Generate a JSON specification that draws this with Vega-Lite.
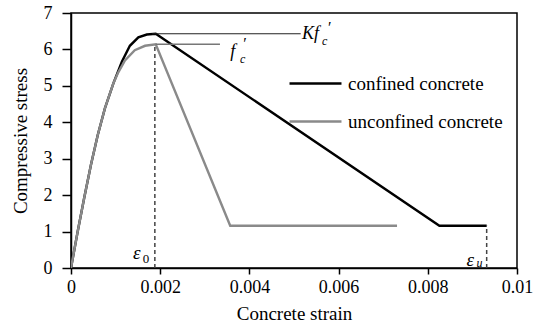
{
  "$schema": "https://vega.github.io/schema/vega-lite/v6.json",
  "width": 446,
  "height": 255,
  "autosize": {"type": "none"},
  "padding": {"left": 71, "top": 13, "right": 26, "bottom": 58},
  "background": "white",
  "view": {"stroke": "black", "strokeWidth": 1.5},
  "config": {
    "font": "Liberation Serif, serif",
    "axis": {"labelFont": "Liberation Serif, serif", "titleFont": "Liberation Serif, serif", "labelFontSize": 18, "titleFontSize": 19, "labelColor": "black", "titleColor": "black", "titleFontWeight": "normal"},
    "legend": {"labelFont": "Liberation Serif, serif", "labelFontSize": 19, "labelColor": "black"},
    "text": {"font": "Liberation Serif, serif"}
  },
  "datasets": {
    "curves": [
      {"series": "confined concrete", "i": 0, "strain": 0, "stress": 0},
      {"series": "confined concrete", "i": 1, "strain": 0.00015, "stress": 1},
      {"series": "confined concrete", "i": 2, "strain": 0.0003, "stress": 1.95},
      {"series": "confined concrete", "i": 3, "strain": 0.00045, "stress": 2.85},
      {"series": "confined concrete", "i": 4, "strain": 0.0006, "stress": 3.65},
      {"series": "confined concrete", "i": 5, "strain": 0.00076, "stress": 4.38},
      {"series": "confined concrete", "i": 6, "strain": 0.00095, "stress": 5.07},
      {"series": "confined concrete", "i": 7, "strain": 0.00114, "stress": 5.66},
      {"series": "confined concrete", "i": 8, "strain": 0.00132, "stress": 6.1},
      {"series": "confined concrete", "i": 9, "strain": 0.00151, "stress": 6.33},
      {"series": "confined concrete", "i": 10, "strain": 0.0017, "stress": 6.41},
      {"series": "confined concrete", "i": 11, "strain": 0.0019, "stress": 6.43},
      {"series": "confined concrete", "i": 12, "strain": 0.00826, "stress": 1.16},
      {"series": "confined concrete", "i": 13, "strain": 0.00932, "stress": 1.16},
      {"series": "unconfined concrete", "i": 0, "strain": 0, "stress": 0},
      {"series": "unconfined concrete", "i": 1, "strain": 0.00015, "stress": 1},
      {"series": "unconfined concrete", "i": 2, "strain": 0.0003, "stress": 1.95},
      {"series": "unconfined concrete", "i": 3, "strain": 0.00045, "stress": 2.85},
      {"series": "unconfined concrete", "i": 4, "strain": 0.0006, "stress": 3.65},
      {"series": "unconfined concrete", "i": 5, "strain": 0.00076, "stress": 4.38},
      {"series": "unconfined concrete", "i": 6, "strain": 0.00095, "stress": 5.07},
      {"series": "unconfined concrete", "i": 7, "strain": 0.00106, "stress": 5.37},
      {"series": "unconfined concrete", "i": 8, "strain": 0.00121, "stress": 5.7},
      {"series": "unconfined concrete", "i": 9, "strain": 0.00143, "stress": 5.98},
      {"series": "unconfined concrete", "i": 10, "strain": 0.00166, "stress": 6.1},
      {"series": "unconfined concrete", "i": 11, "strain": 0.0019, "stress": 6.14},
      {"series": "unconfined concrete", "i": 12, "strain": 0.00357, "stress": 1.16},
      {"series": "unconfined concrete", "i": 13, "strain": 0.00731, "stress": 1.16}
    ],
    "one": [{}]
  },
  "layer": [
    {
      "data": {"name": "curves"},
      "mark": {"type": "line", "strokeWidth": 2.4, "clip": true},
      "encoding": {
        "x": {"field": "strain", "type": "quantitative", "scale": {"domain": [0, 0.01], "nice": false, "zero": false},
              "axis": {"values": [0, 0.002, 0.004, 0.006, 0.008, 0.01], "format": "~g", "tickSize": 6, "tickWidth": 1.5, "tickColor": "black", "domainColor": "black", "domainWidth": 1.5, "grid": false, "labelFont": "Liberation Serif, serif", "labelFontSize": 18, "labelColor": "black", "labelPadding": 4, "labelFlush": false, "title": "Concrete strain", "titleFont": "Liberation Serif, serif", "titleFontSize": 19, "titleFontWeight": "normal", "titleColor": "black", "titlePadding": 8}},
        "y": {"field": "stress", "type": "quantitative", "scale": {"domain": [0, 7], "nice": false},
              "axis": {"values": [0, 1, 2, 3, 4, 5, 6, 7], "tickSize": 9, "tickWidth": 1.5, "tickColor": "black", "domainColor": "black", "domainWidth": 1.5, "grid": false, "labelFont": "Liberation Serif, serif", "labelFontSize": 18, "labelColor": "black", "labelPadding": 10, "labelFlush": false, "title": "Compressive stress", "titleFont": "Liberation Serif, serif", "titleFontSize": 19, "titleFontWeight": "normal", "titleColor": "black", "titlePadding": 13}},
        "color": {"field": "series", "type": "nominal",
                  "scale": {"domain": ["confined concrete", "unconfined concrete"], "range": ["#000000", "#8a8a8a"]},
                  "legend": {"orient": "none", "legendX": 217, "legendY": 43, "title": null, "symbolType": "stroke", "symbolSize": 2700, "symbolStrokeWidth": 2.5, "labelOffset": 5, "rowPadding": -29, "labelFontSize": 19, "labelFont": "Liberation Serif, serif", "labelColor": "black"}},
        "order": {"field": "i", "type": "quantitative"}
      }
    },
    {
      "data": {"name": "one"},
      "mark": {"type": "rule", "color": "#222222", "strokeWidth": 1.2},
      "encoding": {
        "x": {"datum": 0.00182, "type": "quantitative", "axis": {"values": [0, 0.002, 0.004, 0.006, 0.008, 0.01], "format": "~g", "tickSize": 6, "tickWidth": 1.5, "tickColor": "black", "domainColor": "black", "domainWidth": 1.5, "grid": false, "labelFont": "Liberation Serif, serif", "labelFontSize": 18, "labelColor": "black", "labelPadding": 4, "labelFlush": false, "title": "Concrete strain", "titleFont": "Liberation Serif, serif", "titleFontSize": 19, "titleFontWeight": "normal", "titleColor": "black", "titlePadding": 8}},
        "x2": {"datum": 0.00515},
        "y": {"datum": 6.43, "type": "quantitative", "axis": {"values": [0, 1, 2, 3, 4, 5, 6, 7], "tickSize": 9, "tickWidth": 1.5, "tickColor": "black", "domainColor": "black", "domainWidth": 1.5, "grid": false, "labelFont": "Liberation Serif, serif", "labelFontSize": 18, "labelColor": "black", "labelPadding": 10, "labelFlush": false, "title": "Compressive stress", "titleFont": "Liberation Serif, serif", "titleFontSize": 19, "titleFontWeight": "normal", "titleColor": "black", "titlePadding": 13}}
      }
    },
    {
      "data": {"name": "one"},
      "mark": {"type": "rule", "color": "#777777", "strokeWidth": 1.5},
      "encoding": {
        "x": {"datum": 0.0019, "type": "quantitative", "axis": {"values": [0, 0.002, 0.004, 0.006, 0.008, 0.01], "format": "~g", "tickSize": 6, "tickWidth": 1.5, "tickColor": "black", "domainColor": "black", "domainWidth": 1.5, "grid": false, "labelFont": "Liberation Serif, serif", "labelFontSize": 18, "labelColor": "black", "labelPadding": 4, "labelFlush": false, "title": "Concrete strain", "titleFont": "Liberation Serif, serif", "titleFontSize": 19, "titleFontWeight": "normal", "titleColor": "black", "titlePadding": 8}},
        "x2": {"datum": 0.00334},
        "y": {"datum": 6.14, "type": "quantitative", "axis": {"values": [0, 1, 2, 3, 4, 5, 6, 7], "tickSize": 9, "tickWidth": 1.5, "tickColor": "black", "domainColor": "black", "domainWidth": 1.5, "grid": false, "labelFont": "Liberation Serif, serif", "labelFontSize": 18, "labelColor": "black", "labelPadding": 10, "labelFlush": false, "title": "Compressive stress", "titleFont": "Liberation Serif, serif", "titleFontSize": 19, "titleFontWeight": "normal", "titleColor": "black", "titlePadding": 13}}
      }
    },
    {
      "data": {"name": "one"},
      "mark": {"type": "rule", "color": "#444444", "strokeWidth": 1.5, "strokeDash": [4, 3]},
      "encoding": {
        "x": {"datum": 0.00188, "type": "quantitative", "axis": {"values": [0, 0.002, 0.004, 0.006, 0.008, 0.01], "format": "~g", "tickSize": 6, "tickWidth": 1.5, "tickColor": "black", "domainColor": "black", "domainWidth": 1.5, "grid": false, "labelFont": "Liberation Serif, serif", "labelFontSize": 18, "labelColor": "black", "labelPadding": 4, "labelFlush": false, "title": "Concrete strain", "titleFont": "Liberation Serif, serif", "titleFontSize": 19, "titleFontWeight": "normal", "titleColor": "black", "titlePadding": 8}},
        "y": {"datum": 0, "type": "quantitative", "axis": {"values": [0, 1, 2, 3, 4, 5, 6, 7], "tickSize": 9, "tickWidth": 1.5, "tickColor": "black", "domainColor": "black", "domainWidth": 1.5, "grid": false, "labelFont": "Liberation Serif, serif", "labelFontSize": 18, "labelColor": "black", "labelPadding": 10, "labelFlush": false, "title": "Compressive stress", "titleFont": "Liberation Serif, serif", "titleFontSize": 19, "titleFontWeight": "normal", "titleColor": "black", "titlePadding": 13}},
        "y2": {"datum": 6.14}
      }
    },
    {
      "data": {"name": "one"},
      "mark": {"type": "rule", "color": "#444444", "strokeWidth": 1.5, "strokeDash": [4, 3]},
      "encoding": {
        "x": {"datum": 0.00932, "type": "quantitative", "axis": {"values": [0, 0.002, 0.004, 0.006, 0.008, 0.01], "format": "~g", "tickSize": 6, "tickWidth": 1.5, "tickColor": "black", "domainColor": "black", "domainWidth": 1.5, "grid": false, "labelFont": "Liberation Serif, serif", "labelFontSize": 18, "labelColor": "black", "labelPadding": 4, "labelFlush": false, "title": "Concrete strain", "titleFont": "Liberation Serif, serif", "titleFontSize": 19, "titleFontWeight": "normal", "titleColor": "black", "titlePadding": 8}},
        "y": {"datum": 0, "type": "quantitative", "axis": {"values": [0, 1, 2, 3, 4, 5, 6, 7], "tickSize": 9, "tickWidth": 1.5, "tickColor": "black", "domainColor": "black", "domainWidth": 1.5, "grid": false, "labelFont": "Liberation Serif, serif", "labelFontSize": 18, "labelColor": "black", "labelPadding": 10, "labelFlush": false, "title": "Compressive stress", "titleFont": "Liberation Serif, serif", "titleFontSize": 19, "titleFontWeight": "normal", "titleColor": "black", "titlePadding": 13}},
        "y2": {"datum": 1.16}
      }
    },
    {
      "data": {"name": "one"},
      "mark": {"type": "text", "text": "Kf", "font": "Liberation Serif, serif", "fontStyle": "italic", "fontSize": 18, "align": "left", "baseline": "alphabetic", "color": "black"},
      "encoding": {
        "x": {"datum": 0.00518, "type": "quantitative", "axis": {"values": [0, 0.002, 0.004, 0.006, 0.008, 0.01], "format": "~g", "tickSize": 6, "tickWidth": 1.5, "tickColor": "black", "domainColor": "black", "domainWidth": 1.5, "grid": false, "labelFont": "Liberation Serif, serif", "labelFontSize": 18, "labelColor": "black", "labelPadding": 4, "labelFlush": false, "title": "Concrete strain", "titleFont": "Liberation Serif, serif", "titleFontSize": 19, "titleFontWeight": "normal", "titleColor": "black", "titlePadding": 8}},
        "y": {"datum": 6.28, "type": "quantitative", "axis": {"values": [0, 1, 2, 3, 4, 5, 6, 7], "tickSize": 9, "tickWidth": 1.5, "tickColor": "black", "domainColor": "black", "domainWidth": 1.5, "grid": false, "labelFont": "Liberation Serif, serif", "labelFontSize": 18, "labelColor": "black", "labelPadding": 10, "labelFlush": false, "title": "Compressive stress", "titleFont": "Liberation Serif, serif", "titleFontSize": 19, "titleFontWeight": "normal", "titleColor": "black", "titlePadding": 13}}
      }
    },
    {
      "data": {"name": "one"},
      "mark": {"type": "text", "text": "c", "font": "Liberation Serif, serif", "fontStyle": "italic", "fontSize": 12, "align": "left", "baseline": "alphabetic", "color": "black"},
      "encoding": {
        "x": {"datum": 0.00563, "type": "quantitative", "axis": {"values": [0, 0.002, 0.004, 0.006, 0.008, 0.01], "format": "~g", "tickSize": 6, "tickWidth": 1.5, "tickColor": "black", "domainColor": "black", "domainWidth": 1.5, "grid": false, "labelFont": "Liberation Serif, serif", "labelFontSize": 18, "labelColor": "black", "labelPadding": 4, "labelFlush": false, "title": "Concrete strain", "titleFont": "Liberation Serif, serif", "titleFontSize": 19, "titleFontWeight": "normal", "titleColor": "black", "titlePadding": 8}},
        "y": {"datum": 6.12, "type": "quantitative", "axis": {"values": [0, 1, 2, 3, 4, 5, 6, 7], "tickSize": 9, "tickWidth": 1.5, "tickColor": "black", "domainColor": "black", "domainWidth": 1.5, "grid": false, "labelFont": "Liberation Serif, serif", "labelFontSize": 18, "labelColor": "black", "labelPadding": 10, "labelFlush": false, "title": "Compressive stress", "titleFont": "Liberation Serif, serif", "titleFontSize": 19, "titleFontWeight": "normal", "titleColor": "black", "titlePadding": 13}}
      }
    },
    {
      "data": {"name": "one"},
      "mark": {"type": "text", "text": "′", "font": "Liberation Serif, serif", "fontSize": 16, "align": "left", "baseline": "alphabetic", "color": "black"},
      "encoding": {
        "x": {"datum": 0.00576, "type": "quantitative", "axis": {"values": [0, 0.002, 0.004, 0.006, 0.008, 0.01], "format": "~g", "tickSize": 6, "tickWidth": 1.5, "tickColor": "black", "domainColor": "black", "domainWidth": 1.5, "grid": false, "labelFont": "Liberation Serif, serif", "labelFontSize": 18, "labelColor": "black", "labelPadding": 4, "labelFlush": false, "title": "Concrete strain", "titleFont": "Liberation Serif, serif", "titleFontSize": 19, "titleFontWeight": "normal", "titleColor": "black", "titlePadding": 8}},
        "y": {"datum": 6.45, "type": "quantitative", "axis": {"values": [0, 1, 2, 3, 4, 5, 6, 7], "tickSize": 9, "tickWidth": 1.5, "tickColor": "black", "domainColor": "black", "domainWidth": 1.5, "grid": false, "labelFont": "Liberation Serif, serif", "labelFontSize": 18, "labelColor": "black", "labelPadding": 10, "labelFlush": false, "title": "Compressive stress", "titleFont": "Liberation Serif, serif", "titleFontSize": 19, "titleFontWeight": "normal", "titleColor": "black", "titlePadding": 13}}
      }
    },
    {
      "data": {"name": "one"},
      "mark": {"type": "text", "text": "f", "font": "Liberation Serif, serif", "fontStyle": "italic", "fontSize": 18, "align": "left", "baseline": "alphabetic", "color": "black"},
      "encoding": {
        "x": {"datum": 0.00357, "type": "quantitative", "axis": {"values": [0, 0.002, 0.004, 0.006, 0.008, 0.01], "format": "~g", "tickSize": 6, "tickWidth": 1.5, "tickColor": "black", "domainColor": "black", "domainWidth": 1.5, "grid": false, "labelFont": "Liberation Serif, serif", "labelFontSize": 18, "labelColor": "black", "labelPadding": 4, "labelFlush": false, "title": "Concrete strain", "titleFont": "Liberation Serif, serif", "titleFontSize": 19, "titleFontWeight": "normal", "titleColor": "black", "titlePadding": 8}},
        "y": {"datum": 5.79, "type": "quantitative", "axis": {"values": [0, 1, 2, 3, 4, 5, 6, 7], "tickSize": 9, "tickWidth": 1.5, "tickColor": "black", "domainColor": "black", "domainWidth": 1.5, "grid": false, "labelFont": "Liberation Serif, serif", "labelFontSize": 18, "labelColor": "black", "labelPadding": 10, "labelFlush": false, "title": "Compressive stress", "titleFont": "Liberation Serif, serif", "titleFontSize": 19, "titleFontWeight": "normal", "titleColor": "black", "titlePadding": 13}}
      }
    },
    {
      "data": {"name": "one"},
      "mark": {"type": "text", "text": "c", "font": "Liberation Serif, serif", "fontStyle": "italic", "fontSize": 12, "align": "left", "baseline": "alphabetic", "color": "black"},
      "encoding": {
        "x": {"datum": 0.00379, "type": "quantitative", "axis": {"values": [0, 0.002, 0.004, 0.006, 0.008, 0.01], "format": "~g", "tickSize": 6, "tickWidth": 1.5, "tickColor": "black", "domainColor": "black", "domainWidth": 1.5, "grid": false, "labelFont": "Liberation Serif, serif", "labelFontSize": 18, "labelColor": "black", "labelPadding": 4, "labelFlush": false, "title": "Concrete strain", "titleFont": "Liberation Serif, serif", "titleFontSize": 19, "titleFontWeight": "normal", "titleColor": "black", "titlePadding": 8}},
        "y": {"datum": 5.63, "type": "quantitative", "axis": {"values": [0, 1, 2, 3, 4, 5, 6, 7], "tickSize": 9, "tickWidth": 1.5, "tickColor": "black", "domainColor": "black", "domainWidth": 1.5, "grid": false, "labelFont": "Liberation Serif, serif", "labelFontSize": 18, "labelColor": "black", "labelPadding": 10, "labelFlush": false, "title": "Compressive stress", "titleFont": "Liberation Serif, serif", "titleFontSize": 19, "titleFontWeight": "normal", "titleColor": "black", "titlePadding": 13}}
      }
    },
    {
      "data": {"name": "one"},
      "mark": {"type": "text", "text": "′", "font": "Liberation Serif, serif", "fontSize": 16, "align": "left", "baseline": "alphabetic", "color": "black"},
      "encoding": {
        "x": {"datum": 0.00386, "type": "quantitative", "axis": {"values": [0, 0.002, 0.004, 0.006, 0.008, 0.01], "format": "~g", "tickSize": 6, "tickWidth": 1.5, "tickColor": "black", "domainColor": "black", "domainWidth": 1.5, "grid": false, "labelFont": "Liberation Serif, serif", "labelFontSize": 18, "labelColor": "black", "labelPadding": 4, "labelFlush": false, "title": "Concrete strain", "titleFont": "Liberation Serif, serif", "titleFontSize": 19, "titleFontWeight": "normal", "titleColor": "black", "titlePadding": 8}},
        "y": {"datum": 6.01, "type": "quantitative", "axis": {"values": [0, 1, 2, 3, 4, 5, 6, 7], "tickSize": 9, "tickWidth": 1.5, "tickColor": "black", "domainColor": "black", "domainWidth": 1.5, "grid": false, "labelFont": "Liberation Serif, serif", "labelFontSize": 18, "labelColor": "black", "labelPadding": 10, "labelFlush": false, "title": "Compressive stress", "titleFont": "Liberation Serif, serif", "titleFontSize": 19, "titleFontWeight": "normal", "titleColor": "black", "titlePadding": 13}}
      }
    },
    {
      "data": {"name": "one"},
      "mark": {"type": "text", "text": "ε", "font": "Liberation Serif, serif", "fontStyle": "italic", "fontSize": 19, "align": "left", "baseline": "alphabetic", "color": "black"},
      "encoding": {
        "x": {"datum": 0.00139, "type": "quantitative", "axis": {"values": [0, 0.002, 0.004, 0.006, 0.008, 0.01], "format": "~g", "tickSize": 6, "tickWidth": 1.5, "tickColor": "black", "domainColor": "black", "domainWidth": 1.5, "grid": false, "labelFont": "Liberation Serif, serif", "labelFontSize": 18, "labelColor": "black", "labelPadding": 4, "labelFlush": false, "title": "Concrete strain", "titleFont": "Liberation Serif, serif", "titleFontSize": 19, "titleFontWeight": "normal", "titleColor": "black", "titlePadding": 8}},
        "y": {"datum": 0.25, "type": "quantitative", "axis": {"values": [0, 1, 2, 3, 4, 5, 6, 7], "tickSize": 9, "tickWidth": 1.5, "tickColor": "black", "domainColor": "black", "domainWidth": 1.5, "grid": false, "labelFont": "Liberation Serif, serif", "labelFontSize": 18, "labelColor": "black", "labelPadding": 10, "labelFlush": false, "title": "Compressive stress", "titleFont": "Liberation Serif, serif", "titleFontSize": 19, "titleFontWeight": "normal", "titleColor": "black", "titlePadding": 13}}
      }
    },
    {
      "data": {"name": "one"},
      "mark": {"type": "text", "text": "0", "font": "Liberation Serif, serif", "fontSize": 13, "align": "left", "baseline": "alphabetic", "color": "black"},
      "encoding": {
        "x": {"datum": 0.00161, "type": "quantitative", "axis": {"values": [0, 0.002, 0.004, 0.006, 0.008, 0.01], "format": "~g", "tickSize": 6, "tickWidth": 1.5, "tickColor": "black", "domainColor": "black", "domainWidth": 1.5, "grid": false, "labelFont": "Liberation Serif, serif", "labelFontSize": 18, "labelColor": "black", "labelPadding": 4, "labelFlush": false, "title": "Concrete strain", "titleFont": "Liberation Serif, serif", "titleFontSize": 19, "titleFontWeight": "normal", "titleColor": "black", "titlePadding": 8}},
        "y": {"datum": 0.14, "type": "quantitative", "axis": {"values": [0, 1, 2, 3, 4, 5, 6, 7], "tickSize": 9, "tickWidth": 1.5, "tickColor": "black", "domainColor": "black", "domainWidth": 1.5, "grid": false, "labelFont": "Liberation Serif, serif", "labelFontSize": 18, "labelColor": "black", "labelPadding": 10, "labelFlush": false, "title": "Compressive stress", "titleFont": "Liberation Serif, serif", "titleFontSize": 19, "titleFontWeight": "normal", "titleColor": "black", "titlePadding": 13}}
      }
    },
    {
      "data": {"name": "one"},
      "mark": {"type": "text", "text": "ε", "font": "Liberation Serif, serif", "fontStyle": "italic", "fontSize": 19, "align": "left", "baseline": "alphabetic", "color": "black"},
      "encoding": {
        "x": {"datum": 0.00887, "type": "quantitative", "axis": {"values": [0, 0.002, 0.004, 0.006, 0.008, 0.01], "format": "~g", "tickSize": 6, "tickWidth": 1.5, "tickColor": "black", "domainColor": "black", "domainWidth": 1.5, "grid": false, "labelFont": "Liberation Serif, serif", "labelFontSize": 18, "labelColor": "black", "labelPadding": 4, "labelFlush": false, "title": "Concrete strain", "titleFont": "Liberation Serif, serif", "titleFontSize": 19, "titleFontWeight": "normal", "titleColor": "black", "titlePadding": 8}},
        "y": {"datum": 0.06, "type": "quantitative", "axis": {"values": [0, 1, 2, 3, 4, 5, 6, 7], "tickSize": 9, "tickWidth": 1.5, "tickColor": "black", "domainColor": "black", "domainWidth": 1.5, "grid": false, "labelFont": "Liberation Serif, serif", "labelFontSize": 18, "labelColor": "black", "labelPadding": 10, "labelFlush": false, "title": "Compressive stress", "titleFont": "Liberation Serif, serif", "titleFontSize": 19, "titleFontWeight": "normal", "titleColor": "black", "titlePadding": 13}}
      }
    },
    {
      "data": {"name": "one"},
      "mark": {"type": "text", "text": "u", "font": "Liberation Serif, serif", "fontStyle": "italic", "fontSize": 12, "align": "left", "baseline": "alphabetic", "color": "black"},
      "encoding": {
        "x": {"datum": 0.00909, "type": "quantitative", "axis": {"values": [0, 0.002, 0.004, 0.006, 0.008, 0.01], "format": "~g", "tickSize": 6, "tickWidth": 1.5, "tickColor": "black", "domainColor": "black", "domainWidth": 1.5, "grid": false, "labelFont": "Liberation Serif, serif", "labelFontSize": 18, "labelColor": "black", "labelPadding": 4, "labelFlush": false, "title": "Concrete strain", "titleFont": "Liberation Serif, serif", "titleFontSize": 19, "titleFontWeight": "normal", "titleColor": "black", "titlePadding": 8}},
        "y": {"datum": 0.03, "type": "quantitative", "axis": {"values": [0, 1, 2, 3, 4, 5, 6, 7], "tickSize": 9, "tickWidth": 1.5, "tickColor": "black", "domainColor": "black", "domainWidth": 1.5, "grid": false, "labelFont": "Liberation Serif, serif", "labelFontSize": 18, "labelColor": "black", "labelPadding": 10, "labelFlush": false, "title": "Compressive stress", "titleFont": "Liberation Serif, serif", "titleFontSize": 19, "titleFontWeight": "normal", "titleColor": "black", "titlePadding": 13}}
      }
    }
  ]
}
